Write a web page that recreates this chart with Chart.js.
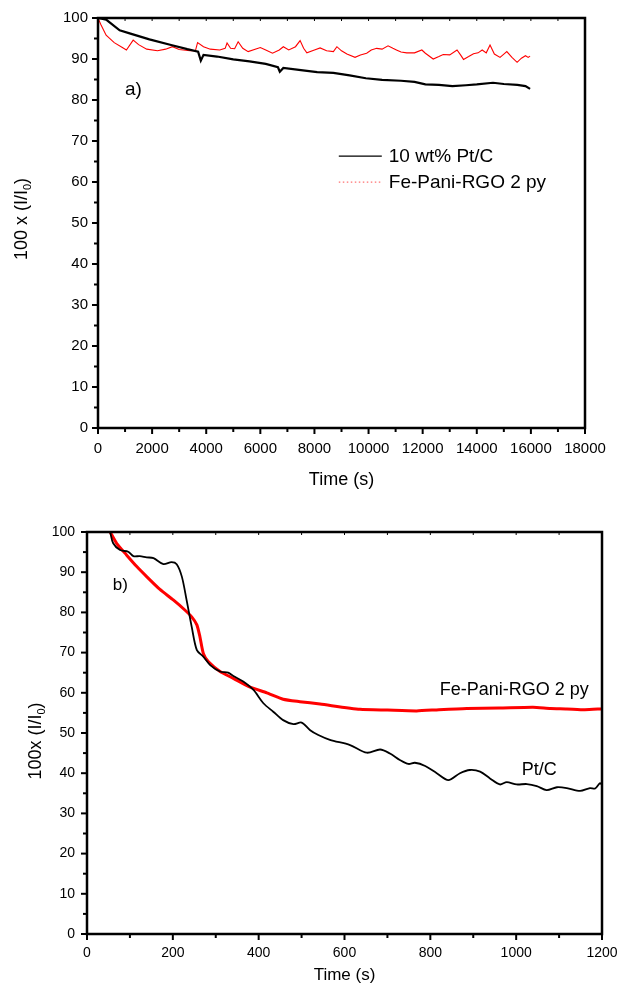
<!DOCTYPE html>
<html><head><meta charset="utf-8">
<script src="https://cdn.jsdelivr.net/npm/chart.js@4/dist/chart.umd.min.js"></script>
<style>
html,body{margin:0;padding:0;background:#fff;}
#wrap{position:relative;width:619px;height:988px;background:#fff;}
.c{position:absolute;left:0;width:619px;height:494px;}
</style></head><body>
<div id="wrap">
<div class="c" style="top:0"><canvas id="ca"></canvas></div>
<div class="c" style="top:494px"><canvas id="cb"></canvas></div>
</div>
<script>
// ---------- DATA ----------
const seriesPtA = "10 wt% Pt/C";
const seriesFeA = "Fe-Pani-RGO 2 py";
// Panel a) long-term stability
const timeA_Pt = [0,300,800,1200,1900,2700,3300,3700,3800,3900,4400,5000,5600,6200,6650,6720,6850,7500,8100,8700,9300,9900,10500,11200,11700,12100,12600,13100,13600,14000,14600,15000,15500,15800,15970];
const valA_Pt  = [100,99.6,97.0,96.2,94.8,93.4,92.4,91.8,89.6,91.0,90.6,89.9,89.4,88.8,88.0,86.9,87.8,87.3,86.8,86.6,86.0,85.3,84.9,84.7,84.4,83.8,83.7,83.4,83.6,83.8,84.2,83.9,83.7,83.4,82.7];
const timeA_Fe = [0,100,300,600,900,1050,1300,1500,1800,2200,2500,2750,3000,3400,3600,3680,3900,4150,4500,4700,4770,4900,5050,5180,5350,5550,6000,6200,6450,6700,6850,7050,7300,7470,7600,7720,8000,8210,8450,8700,8830,9000,9200,9500,9700,9930,10100,10300,10500,10720,10900,11030,11200,11410,11700,11970,12100,12390,12600,12760,13000,13270,13400,13510,13700,13880,14050,14200,14350,14490,14650,14860,15000,15110,15300,15490,15650,15800,15900,15970];
const valA_Fe  = [100,98.5,95.8,94.0,92.8,92.2,94.6,93.5,92.4,92.0,92.4,93.0,92.3,92.0,92.0,94.0,93.0,92.4,92.2,92.6,93.9,92.6,92.5,94.2,92.6,91.8,92.8,92.2,91.4,92.2,93.0,92.2,93.0,94.5,92.6,91.5,92.2,92.7,92.0,91.8,93.0,92.0,91.2,90.4,91.0,91.4,92.2,92.6,92.4,93.2,92.6,92.2,91.7,91.5,91.5,92.2,91.4,90.0,90.6,91.1,91.0,92.2,91.0,89.9,90.6,91.3,91.5,92.2,91.5,93.4,91.2,90.4,91.2,91.8,90.4,89.2,90.2,90.8,90.4,90.7];
// Panel b) short-term
const seriesPtB = "Pt/C";
const seriesFeB = "Fe-Pani-RGO 2 py";
const timeB_Pt = [54,61,77,96,108,123,139,155,178,197,209,221,232,244,256,271,287,310,329,341,364,388,411,434,457,481,500,520,539,566,613,652,683,706,729,749,764,788,815,842,869,892,916,939,962,978,1001,1025,1048,1071,1095,1118,1149,1172,1184,1195,1200];
const valB_Pt  = [100,97.2,95.5,95.1,94.0,94.0,93.7,93.5,92.0,92.5,92.0,88.9,83.1,76.4,70.6,69.0,66.9,65.3,65.0,64.2,62.8,60.7,57.4,55.3,53.2,52.2,52.6,50.7,49.5,48.3,47.0,45.1,45.9,44.9,43.3,42.3,42.6,41.8,40.0,38.3,40.0,40.8,40.4,38.7,37.2,37.8,37.2,37.3,36.8,35.8,36.5,36.3,35.6,36.3,36.2,37.5,37.2];
const timeB_Fe = [54,69,92,116,139,170,201,228,244,256,263,271,283,310,341,380,419,457,496,543,636,700,768,820,885,960,1039,1080,1118,1160,1200];
const valB_Fe  = [100,97.2,94.3,91.4,88.9,85.7,83.1,80.6,78.9,76.9,74.0,69.8,67.7,65.3,63.6,61.4,60.0,58.4,57.8,57.2,55.9,55.7,55.5,55.8,56.1,56.2,56.4,56.1,56.0,55.8,56.0];
// Tick labels
const xTicksA = [0,2000,4000,6000,8000,10000,12000,14000,16000,18000];
const xTicksB = [0,200,400,600,800,1000,1200];
const yTicks  = [0,10,20,30,40,50,60,70,80,90,100];
// Text
const xTitle = "Time (s)";
const yTitleA = ["100 x (I/I", "0", ")"];
const yTitleB = ["100x (I/I", "0", ")"];

// ---------- HELPERS ----------
const FONT = '"Liberation Sans", Arial, Helvetica, sans-serif';
const pts = (t, v) => t.map((x, i) => ({x, y: v[i]}));

function drawYTitle(ctx, cx, cy, size, parts) {
  ctx.save();
  ctx.translate(cx, cy); ctx.rotate(-Math.PI / 2);
  ctx.fillStyle = '#000'; ctx.textBaseline = 'middle'; ctx.textAlign = 'left';
  const f = size + 'px ' + FONT, fs = Math.round(size * 0.62) + 'px ' + FONT;
  ctx.font = f; const w1 = ctx.measureText(parts[0]).width;
  ctx.font = fs; const w2 = ctx.measureText(parts[1]).width;
  ctx.font = f; const w3 = ctx.measureText(parts[2]).width;
  let x = -(w1 + w2 + w3) / 2;
  ctx.font = f; ctx.fillText(parts[0], x, 0); x += w1;
  ctx.font = fs; ctx.fillText(parts[1], x, size * 0.32); x += w2;
  ctx.font = f; ctx.fillText(parts[2], x, 0);
  ctx.restore();
}

const decor = {
  id: 'decor',
  afterDraw(chart, args, o) {
    const ctx = chart.ctx;
    const {left, right, top, bottom} = chart.chartArea;
    const xs = chart.scales.x, ys = chart.scales.y;
    const seg = (a, b, c, d) => { ctx.beginPath(); ctx.moveTo(a, b); ctx.lineTo(c, d); ctx.stroke(); };
    ctx.save();
    ctx.strokeStyle = '#000';
    ctx.lineWidth = o.tickW;
    for (let v = xs.min; v <= xs.max + 1e-6; v += o.xMinor) {
      const px = xs.getPixelForValue(v);
      const major = Math.abs(v / o.xMajor - Math.round(v / o.xMajor)) < 1e-6;
      seg(px, bottom, px, bottom + (major ? o.majLen : o.minLen));
      ctx.save(); ctx.lineWidth = 1; seg(px, top, px, top + 3); ctx.restore();
    }
    for (let v = ys.min; v <= ys.max + 1e-6; v += 5) {
      const py = ys.getPixelForValue(v);
      const major = Math.abs(v / 10 - Math.round(v / 10)) < 1e-6;
      seg(left, py, left - (major ? o.majLen : o.minLen), py);
    }
    ctx.lineWidth = o.frameW;
    ctx.strokeRect(left, top, right - left, bottom - top);
    // annotations
    ctx.fillStyle = '#000'; ctx.textBaseline = 'middle'; ctx.textAlign = 'left';
    (o.notes || []).forEach(n => {
      ctx.font = n.size + 'px ' + FONT;
      ctx.fillText(n.text, xs.getPixelForValue(n.x), ys.getPixelForValue(n.y));
    });
    // legend
    if (o.legend) {
      const L = o.legend;
      const lx = xs.getPixelForValue(L.x), ly = ys.getPixelForValue(L.y);
      chart.data.datasets.forEach((ds, i) => {
        const y = ly + i * L.gap;
        ctx.save();
        ctx.strokeStyle = ds.legendColor; ctx.lineWidth = 1.2;
        ctx.setLineDash(ds.legendDash || []);
        seg(lx, y, lx + 43, y);
        ctx.restore();
        ctx.font = L.size + 'px ' + FONT;
        ctx.fillText(ds.label, lx + 50, y + 1);
      });
    }
    drawYTitle(ctx, o.yTitleX, o.yTitleY, o.yTitleSize, o.yTitle);
    ctx.restore();
  }
};

function makeChart(id, cfg) {
  return new Chart(document.getElementById(id), {
    type: 'line',
    data: { datasets: cfg.datasets },
    options: {
      responsive: true, maintainAspectRatio: false, animation: false, devicePixelRatio: 1,
      layout: { padding: { left: 0, top: cfg.top, right: cfg.right, bottom: 0 } },
      elements: { point: { radius: 0 }, line: { tension: 0 } },
      plugins: { legend: { display: false }, tooltip: { enabled: false }, decor: cfg.decor },
      scales: {
        x: {
          type: 'linear', min: cfg.xMin, max: cfg.xMax,
          grid: { display: false, drawTicks: false }, border: { display: false },
          ticks: { color: '#000', font: { family: FONT, size: cfg.tickSize }, padding: cfg.xPad, maxRotation: 0, autoSkip: false, callback: v => String(v) },
          afterBuildTicks: s => { s.ticks = cfg.xTicks.map(v => ({value: v})); },
          afterFit: s => { s.height = cfg.xH; s.paddingLeft = 0; s.paddingRight = 0; },
          title: { display: true, text: xTitle, color: '#000', font: { family: FONT, size: cfg.titleSize }, padding: { top: 0, bottom: cfg.titleBottom } }
        },
        y: {
          type: 'linear', min: 0, max: 100,
          grid: { display: false, drawTicks: false }, border: { display: false },
          ticks: { color: '#000', font: { family: FONT, size: cfg.tickSize }, padding: cfg.yPad, autoSkip: false, callback: v => String(v) },
          afterBuildTicks: s => { s.ticks = yTicks.map(v => ({value: v})); },
          afterFit: s => { s.width = cfg.yW; s.paddingTop = 0; s.paddingBottom = 0; }
        }
      }
    },
    plugins: [decor]
  });
}

makeChart('ca', {
  datasets: [
    { label: seriesPtA, data: pts(timeA_Pt, valA_Pt), borderColor: '#000', borderWidth: 2.2, legendColor: '#000' },
    { label: seriesFeA, data: pts(timeA_Fe, valA_Fe), borderColor: '#ff0000', borderWidth: 1.1, legendColor: '#ff7070', legendDash: [1.5, 2.5] }
  ],
  top: 18, right: 34, xMin: 0, xMax: 18000, xTicks: xTicksA, xH: 66, yW: 98,
  tickSize: 15, xPad: 12, yPad: 10, titleSize: 18, titleBottom: 3,
  decor: {
    xMinor: 1000, xMajor: 2000, majLen: 6, minLen: 4, tickW: 2, frameW: 2.5,
    yTitle: yTitleA, yTitleX: 22, yTitleY: 219, yTitleSize: 18,
    notes: [{ text: 'a)', x: 1000, y: 82.4, size: 19 }],
    legend: { x: 8900, y: 66.3, gap: 26, size: 19 }
  }
});

makeChart('cb', {
  datasets: [
    { label: seriesPtB, data: pts(timeB_Pt, valB_Pt), borderColor: '#000', borderWidth: 1.8, tension: 0.3 },
    { label: seriesFeB, data: pts(timeB_Fe, valB_Fe), borderColor: '#ff0000', borderWidth: 3, tension: 0.2 }
  ],
  top: 38, right: 17, xMin: 0, xMax: 1200, xTicks: xTicksB, xH: 54, yW: 87,
  tickSize: 14, xPad: 11, yPad: 12, titleSize: 17, titleBottom: 2,
  decor: {
    xMinor: 100, xMajor: 200, majLen: 6, minLen: 4, tickW: 2, frameW: 2.5,
    yTitle: yTitleB, yTitleX: 36, yTitleY: 247, yTitleSize: 18,
    notes: [
      { text: 'b)', x: 60, y: 86.8, size: 17 },
      { text: seriesFeB, x: 822, y: 60.7, size: 18 },
      { text: seriesPtB, x: 1013, y: 40.8, size: 18 }
    ]
  }
});
</script>
</body></html>
